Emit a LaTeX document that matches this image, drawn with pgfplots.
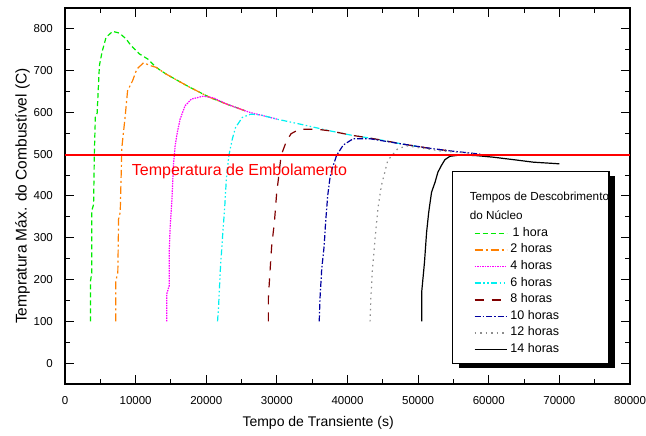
\documentclass[border=0pt]{standalone}
\usepackage{pgfplots}
\pgfplotsset{compat=1.18}
\usepackage{fontspec}
\setmainfont{Liberation Sans}
\definecolor{cgreen}{RGB}{0,235,0}
\definecolor{corange}{RGB}{255,128,0}
\definecolor{cmag}{RGB}{255,0,255}
\definecolor{ccyan}{RGB}{0,240,240}
\definecolor{cbrown}{RGB}{128,0,0}
\definecolor{cnavy}{RGB}{0,0,160}
\definecolor{cgray}{RGB}{140,140,140}
\pgfplotsset{
  s1/.style={color=cgreen, line width=1.2pt, dash pattern=on 5pt off 3pt},
  s2/.style={color=corange, line width=1.2pt, dash pattern=on 8pt off 3pt on 2pt off 3pt},
  s3/.style={color=cmag, line width=1.2pt, dash pattern=on 1.5pt off 1pt},
  s4/.style={color=ccyan, line width=1.2pt, dash pattern=on 6pt off 2.5pt on 1.5pt off 2.5pt on 1.5pt off 2.5pt},
  s5/.style={color=cbrown, line width=1.2pt, dash pattern=on 9pt off 8pt},
  s6/.style={color=cnavy, line width=1.2pt, dash pattern=on 6pt off 2pt on 1.5pt off 2pt},
  s7/.style={color=cgray, line width=1.2pt, dash pattern=on 1.5pt off 4pt},
  s8/.style={color=black, line width=1.2pt, solid},
}
\begin{document}
\begin{tikzpicture}
\path[use as bounding box] (-65pt,-52pt) rectangle (581pt,384pt);
\begin{axis}[
  at={(0,0)}, anchor=south west,
  scale only axis, width=565pt, height=376pt,
  xmin=0, xmax=80000, ymin=-50, ymax=850,
  xtick={0,10000,...,80000}, ytick={0,100,...,800},
  minor x tick num=1, minor y tick num=1,
  xtick pos=both, ytick pos=both,
  xticklabel pos=lower, yticklabel pos=left,
  tick align=inside,
  major tick length=9pt, minor tick length=5pt,
  every tick/.style={black, line width=1pt},
  axis line style={line width=1.6pt},
  scaled x ticks=false,
  /pgf/number format/1000 sep={},
  /pgf/number format/assume math mode=true,
  ticklabel style={font=\fontsize{11.5}{13}\selectfont, inner sep=0pt},
  yticklabel style={xshift=-12pt},
  xticklabel style={yshift=-12pt},
  xlabel={Tempo de Transiente (s)},
  ylabel={Tempratura Máx. do Combustível (C)},
  x label style={font=\fontsize{14}{16}\selectfont, at={(axis description cs:0.448,-0.104)}, anchor=center},
  y label style={font=\fontsize{15.5}{17}\selectfont, at={(axis description cs:-0.075,0.5)}, anchor=center},
  legend style={at={(axis cs:57445,370)}, anchor=north west, draw=none, fill=none,
    font=\fontsize{12.5}{14}\selectfont, row sep=4.6pt, column sep=3pt,
    nodes={inner sep=0pt, text height=9pt, text depth=3pt}},
  legend cell align=left,
  legend image code/.code={\draw[#1, line width=1.6pt] (0pt,0pt) -- (32pt,0pt);},
]
\addlegendimage{empty legend}\addlegendentry{}
\addlegendimage{color=cgreen, line width=2pt, dash pattern=on 5.5pt off 2.5pt}\addlegendentry{\,1 hora}
\addlegendimage{s2}\addlegendentry{2 horas}
\addlegendimage{s3}\addlegendentry{4 horas}
\addlegendimage{s4}\addlegendentry{6 horas}
\addlegendimage{s5}\addlegendentry{8 horas}
\addlegendimage{s6}\addlegendentry{10 horas}
\addlegendimage{s7}\addlegendentry{12 horas}
\addlegendimage{s8}\addlegendentry{14 horas}
\addplot[s1, forget plot] coordinates {
(3600,100)(3600,195)(3780,215)(3800,365)(4050,380)(4150,498)(4300,590)(4550,598)
(4870,712)(5250,745)(5820,780)(6750,794)(7700,790)(8650,776)(9350,760)(10550,740)
(11700,728)(12900,708)(14300,692)(16200,674)(17700,660)(20500,636)(22900,620)(25500,604)};
\addplot[s2, forget plot] coordinates {
(7200,100)(7200,197)(7480,217)(7590,345)(7820,361)(8050,516)(8530,592)(8860,652)
(9570,676)(10180,704)(11130,719)(12100,712)(12900,708)(14300,692)(16200,674)(17700,660)
(20500,636)(22900,620)(25500,604)};
\addplot[s3, forget plot] coordinates {
(14400,100)(14400,165)(14750,185)(14750,265)(14900,329)(15150,393)(15350,473)(15600,521)
(15900,552)(16300,584)(17000,616)(17900,632)(19600,639)(21000,635)(22900,620)(25500,604)
(26200,600)(30000,584)};
\addplot[s4, forget plot] coordinates {
(21600,100)(21750,137)(22000,225)(22350,313)(22600,369)(22850,441)(23200,497)(23700,537)
(24150,564)(25100,588)(26300,596)(27700,594)(30000,584)(33300,572)(37500,556)(40400,546)
(44100,536)(47900,524)(50000,518)};
\addplot[s5, forget plot] coordinates {
(28800,100)(28800,157)(29050,225)(29270,281)(29650,337)(29980,409)(30220,441)(30600,497)
(31300,529)(32000,549)(33200,560)(35600,560)(37500,556)(40400,546)(44100,536)(47900,524)
(51700,514)(54500,508)};
\addplot[s6, forget plot] coordinates {
(36000,100)(36100,153)(36350,225)(36700,281)(36900,337)(37200,401)(37500,441)(37750,461)
(38450,497)(39400,522)(40800,537)(43200,537)(47900,524)(51700,514)(54500,508)(57800,502)
(58800,500)};
\addplot[s7, forget plot] coordinates {
(43200,100)(43300,153)(43500,217)(43900,297)(44300,369)(44800,425)(45700,485)(47100,513)
(48400,520)(53100,508)(57800,502)};
\addplot[s8, forget plot] coordinates {
(50500,100)(50500,169)(50900,241)(51200,313)(51500,361)(51900,409)(52400,433)(52800,457)
(53300,473)(53800,487)(54500,495)(55900,498)(58000,497)(60600,493)(63500,487)(66300,481)
(69100,478)(70000,477)};
\addplot[red, line width=1.5pt, forget plot] coordinates {(0,498)(80000,498)};
\node[anchor=west, text=red, font=\fontsize{16}{18}\selectfont, inner sep=0pt] at (axis cs:9440,458) {Temperatura de Embolamento};
\fill[black] (axis cs:55750,-12) rectangle (axis cs:77900,448);
\filldraw[fill=white, draw=black, line width=1.2pt] (axis cs:54900,0) rectangle (axis cs:77025,458);
\node[anchor=west, font=\fontsize{11.7}{13}\selectfont, inner sep=0pt] at (axis cs:57300,396) {Tempos de Descobrimento};
\node[anchor=west, font=\fontsize{11.7}{13}\selectfont, inner sep=0pt] at (axis cs:57300,355) {do Núcleo};
\end{axis}
\end{tikzpicture}
\end{document}
